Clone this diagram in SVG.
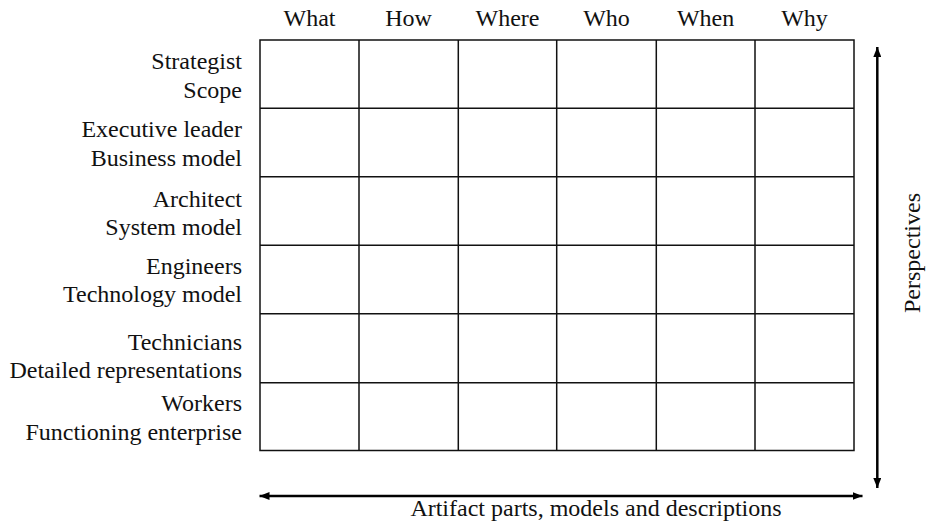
<svg xmlns="http://www.w3.org/2000/svg" width="928" height="530" viewBox="0 0 928 530">
  <style>
    .lbl { font-family: 'Liberation Serif', 'Tinos', 'Times New Roman', 'DejaVu Serif', serif; font-size: 24px; fill: #111; }
    .row { text-anchor: end; }
    .col { text-anchor: middle; }
    .grid { fill: none; stroke: #111; stroke-width: 1.5; }
    .axis { fill: none; stroke: #000; stroke-width: 2.5; }
  </style>
  <defs>
    <marker id="arrow" viewBox="0 0 10 8" refX="10" refY="4" markerWidth="10" markerHeight="8" markerUnits="userSpaceOnUse" orient="auto-start-reverse">
      <path d="M0,0 L10,4 L0,8 Z" fill="#000"/>
    </marker>
  </defs>
  <rect width="928" height="530" fill="#fff"/>

  <!-- matrix grid -->
  <g id="matrix">
    <rect class="grid" x="260" y="40" width="594" height="410.5"/>
    <path class="grid" d="M359,40 V450.5 M458.3,40 V450.5 M556.7,40 V450.5 M656.3,40 V450.5 M755,40 V450.5"/>
    <path class="grid" d="M260,108.3 H854 M260,176.7 H854 M260,245.3 H854 M260,313.7 H854 M260,382.7 H854"/>
  </g>

  <!-- column headers -->
  <g id="columns" class="lbl" font-family="Liberation Serif, serif">
    <text class="col" x="309.5" y="26">What</text>
    <text class="col" x="408.6" y="26">How</text>
    <text class="col" x="507.5" y="26">Where</text>
    <text class="col" x="606.5" y="26">Who</text>
    <text class="col" x="705.6" y="26">When</text>
    <text class="col" x="804.5" y="26">Why</text>
  </g>

  <!-- row headers -->
  <g id="row-strategist" class="lbl">
    <text class="row" x="242" y="69">Strategist</text>
    <text class="row" x="242" y="98">Scope</text>
  </g>
  <g id="row-executive" class="lbl">
    <text class="row" x="242" y="137">Executive leader</text>
    <text class="row" x="242" y="166">Business model</text>
  </g>
  <g id="row-architect" class="lbl">
    <text class="row" x="242" y="207">Architect</text>
    <text class="row" x="242" y="235">System model</text>
  </g>
  <g id="row-engineers" class="lbl">
    <text class="row" x="242" y="274">Engineers</text>
    <text class="row" x="242" y="302">Technology model</text>
  </g>
  <g id="row-technicians" class="lbl">
    <text class="row" x="242" y="349.5">Technicians</text>
    <text class="row" x="242" y="378">Detailed representations</text>
  </g>
  <g id="row-workers" class="lbl">
    <text class="row" x="242" y="411">Workers</text>
    <text class="row" x="242" y="439.5">Functioning enterprise</text>
  </g>

  <!-- axes -->
  <g id="connectors">
    <line class="axis" x1="877.3" y1="47" x2="877.3" y2="488" marker-start="url(#arrow)" marker-end="url(#arrow)"/>
    <line class="axis" x1="259.5" y1="496" x2="862.5" y2="496" marker-start="url(#arrow)" marker-end="url(#arrow)"/>
  </g>

  <g id="axis-labels" class="lbl">
    <text class="col" transform="translate(920,253) rotate(-90)">Perspectives</text>
    <text class="col" x="596" y="516">Artifact parts, models and descriptions</text>
  </g>
</svg>
